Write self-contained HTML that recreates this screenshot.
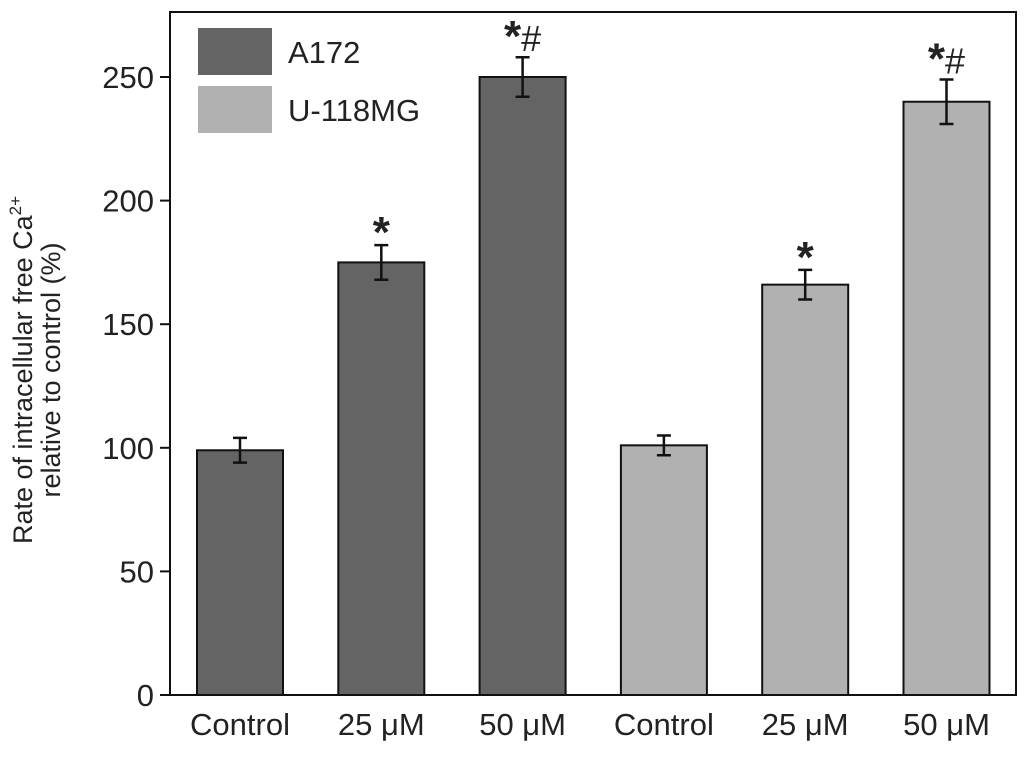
<!DOCTYPE html>
<html><head><meta charset="utf-8"><style>
body{margin:0;background:#fff}
svg{display:block;font-family:"Liberation Sans",sans-serif}
</style></head><body>
<svg id="chart" width="1031" height="768">
<g id="g"></g>
</svg>
<script>
const categories=["Control","25 μM","50 μM","Control","25 μM","50 μM"];
const series=["A172","A172","A172","U-118MG","U-118MG","U-118MG"];
const values=[99,175,250,101,166,240];
const errors=[5,7,8,4,6,9];
const marks=["","*","*#","","*","*#"];
const yTicks=[0,50,100,150,200,250];
const colors={"A172":"#646464","U-118MG":"#b1b1b1"};
const NS="http://www.w3.org/2000/svg";
const g=document.getElementById('g');
const L=170,R=1016,T=12,B=695;
const y=v=>B-v*2.472;
const x=i=>240+i*141.3;
function el(t,a,txt){const e=document.createElementNS(NS,t);for(const k in a)e.setAttribute(k,a[k]);if(txt!==undefined)e.textContent=txt;g.appendChild(e);return e;}
values.forEach((v,i)=>{
 const b=el('rect',{x:x(i)-43,y:y(v),width:86,height:B-y(v),fill:colors[series[i]],stroke:'#111','stroke-width':2});
 
 
 const e=errors[i],cx=x(i);
 const p=el('path',{d:`M${cx},${y(v+e)}V${y(v-e)}M${cx-7},${y(v+e)}H${cx+7}M${cx-7},${y(v-e)}H${cx+7}`,stroke:'#111','stroke-width':2.5,fill:'none'});
 
 
 if(marks[i]){
  const hasHash=marks[i].includes('#');
  const t=el('text',{x:cx,y:y(v+e)-(hasHash?-2:-2),'text-anchor':'middle','font-size':44,fill:'#222'});
  
  
  const s=document.createElementNS(NS,'tspan');s.setAttribute('font-weight','bold');s.textContent='*';t.appendChild(s);
  if(hasHash){const h=document.createElementNS(NS,'tspan');h.setAttribute('font-size',36);h.textContent='#';t.appendChild(h);t.setAttribute('y',y(v+e)-6);}
 }
 const l=el('text',{x:cx,y:735,'text-anchor':'middle','font-size':31,fill:'#222'},categories[i]);
 
 
});
yTicks.forEach(v=>{
 el('line',{x1:L-10,x2:L,y1:y(v),y2:y(v),stroke:'#111','stroke-width':2});
 const t=el('text',{x:L-16,y:y(v)+11,'text-anchor':'end','font-size':31,fill:'#222'},v);
 
 
});
const f=el('rect',{x:L,y:T,width:R-L,height:B-T,fill:'none',stroke:'#111','stroke-width':2});


const t1=el('text',{transform:'translate(32,370) rotate(-90)','text-anchor':'middle','font-size':27,fill:'#222'},'Rate of intracellular free Ca');


const sup=document.createElementNS(NS,'tspan');sup.setAttribute('font-size',17);sup.setAttribute('dy',-11);sup.textContent='2+';t1.appendChild(sup);
const t2=el('text',{transform:'translate(60,370) rotate(-90)','text-anchor':'middle','font-size':27,fill:'#222'},'relative to control (%)');


[["A172",28],["U-118MG",86]].forEach(([s,yy])=>{
 const r=el('rect',{x:198,y:yy,width:74,height:47,fill:colors[s]});
 
 
 const t=el('text',{x:288,y:yy+35,'font-size':31,fill:'#222'},s);
 
 
});
</script>
</body></html>
